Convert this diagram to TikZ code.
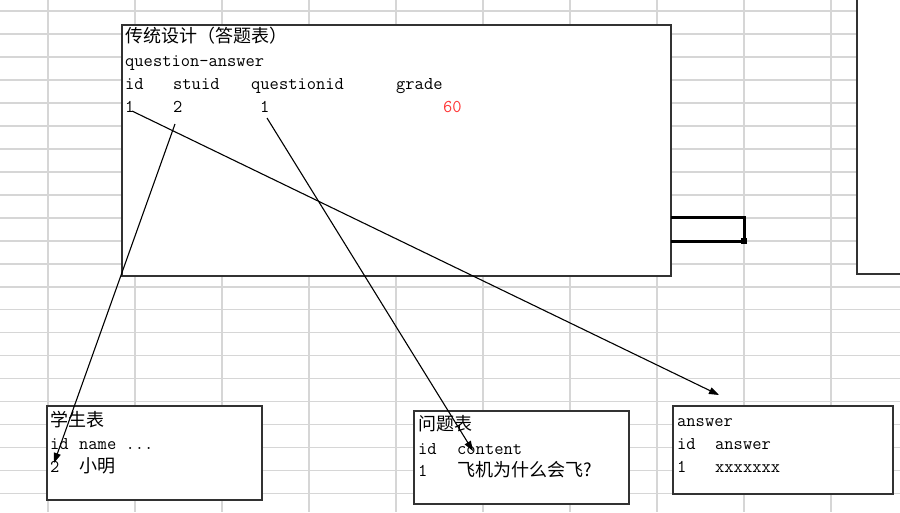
\documentclass[tikz,border=0pt]{standalone}
\usepackage{fontspec}
\newfontfamily\lat{Latin Modern Mono}
\newfontfamily\cjk{Noto Sans CJK SC}
\usetikzlibrary{arrows.meta}
\definecolor{gridgray}{RGB}{214,214,214}
\definecolor{boxline}{RGB}{50,50,50}
\definecolor{redtxt}{RGB}{255,55,55}
\tikzset{
  tbl/.style={draw=boxline, line width=1.2pt, fill=white},
  lt/.style={anchor=base west, inner sep=0pt, font=\lat\fontsize{18}{20}\selectfont, text=black},
  ct/.style={anchor=base west, inner sep=0pt, font=\cjk\fontsize{18}{20}\selectfont, text=black},
  conn/.style={draw=black, line width=1.1pt, -{Triangle[length=10pt,width=7pt]}}
}
\begin{document}
\begin{tikzpicture}[x=1pt,y=-1pt]
\useasboundingbox (0,0) rectangle (900,512);
\clip (0,0) rectangle (900,512);
\fill[white] (0,0) rectangle (900,512);
% spreadsheet grid
\foreach \k in {0,...,21} {\draw[gridgray, line width=1.5pt] (0,{11+22.98*\k}) -- (900,{11+22.98*\k});}
\foreach \k in {0,...,9} {\draw[gridgray, line width=1.5pt] ({48+87*\k},0) -- ({48+87*\k},512);}
% boxes
\draw[tbl] (122,25) rectangle (671,276);
\draw[tbl] (857,-5) rectangle (910,274);
\draw[tbl] (47,406) rectangle (262,500);
\draw[tbl] (414,411) rectangle (629,504);
\draw[tbl] (673,406) rectangle (893,494);
% thick bracket
\draw[black, line width=3pt, line join=miter] (671,217) -- (744,217) -- (744,241) -- (671,241);
\fill[black] (741,238) rectangle (747,244);
% main table text
\node[ct] (title) at (125,42) {传统设计（答题表）};
\node[lt] (tname) at (125,66) {question-answer};
\node[lt] (hid) at (125,89) {id};
\node[lt] (hstu) at (173,89) {stuid};
\node[lt] (hq) at (251,89) {questionid};
\node[lt] (hg) at (396,89) {grade};
\node[lt] (vid) at (125,112) {1};
\node[lt] (vstu) at (173,112) {2};
\node[lt] (vq) at (260,112) {1};
\node[lt, text=redtxt] (vg) at (443,112) {60};
% student table
\node[ct] (stitle) at (50,426) {学生表};
\node[lt] (sid) at (50,449) {id};
\node[lt] (sname) at (79,449) {name ...};
\node[lt] (sv) at (50,472) {2};
\node[ct] (svn) at (79,472) {小明};
% question table
\node[ct] (qtitle) at (418,430) {问题表};
\node[lt] (qid) at (418,454) {id};
\node[lt] (qcont) at (457,454) {content};
\node[lt] (qv) at (418,476) {1};
\node[ct] (qvc) at (457,476) {飞机为什么会飞?};
% answer table
\node[lt] (atitle) at (677,426) {answer};
\node[lt] (aid) at (677,449) {id};
\node[lt] (aans) at (715,449) {answer};
\node[lt] (av) at (677,472) {1};
\node[lt] (avx) at (715,472) {xxxxxxx};
% connector ends
\coordinate (s1) at (132,111);
\coordinate (e1) at (719,395);
\coordinate (s2) at (175,124);
\coordinate (e2) at (54,463);
\coordinate (s3) at (267,118);
\coordinate (e3) at (473,451);
\draw[conn] (s1) -- (e1);
\draw[conn] (s2) -- (e2);
\draw[conn] (s3) -- (e3);
\end{tikzpicture}
\end{document}
